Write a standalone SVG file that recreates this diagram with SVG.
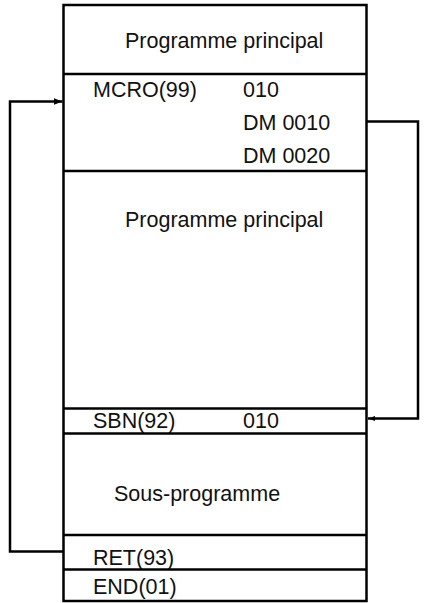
<svg xmlns="http://www.w3.org/2000/svg" width="426" height="603" viewBox="0 0 426 603">
<style>
.box{fill:none;stroke:#000;stroke-width:2.5}
.sep{stroke:#000;stroke-width:2.5}
.t{font-family:"Liberation Sans",Arial,sans-serif;font-size:21.5px;fill:#111}
.c{fill:none;stroke:#000;stroke-width:2.5}
</style>
<defs>
<marker id="ah" markerWidth="10" markerHeight="8" refX="9" refY="4" orient="auto" markerUnits="userSpaceOnUse">
<path d="M0,0.5 L9,4 L0,7.5 Z" fill="#000"/>
</marker>
<marker id="ah2" markerWidth="8" markerHeight="6" refX="7" refY="3" orient="auto" markerUnits="userSpaceOnUse">
<path d="M0,0.5 L7,3 L0,5.5 Z" fill="#000"/>
</marker>
</defs>
<g id="program">
<rect class="box" x="63.5" y="5" width="303" height="596"/>
</g>
<g id="main1">
<text class="t" x="125" y="48">Programme principal</text>
</g>
<g id="mcro">
<line class="sep" x1="63.5" y1="74" x2="366.5" y2="74"/>
<text class="t" x="93" y="97">MCRO(99)</text>
<text class="t" x="243" y="97">010</text>
<text class="t" x="243" y="130">DM 0010</text>
<text class="t" x="243" y="163">DM 0020</text>
</g>
<g id="main2">
<line class="sep" x1="63.5" y1="171" x2="366.5" y2="171"/>
<text class="t" x="125" y="227">Programme principal</text>
</g>
<g id="sbn">
<line class="sep" x1="63.5" y1="408.5" x2="366.5" y2="408.5"/>
<text class="t" x="93" y="428">SBN(92)</text>
<text class="t" x="243" y="428">010</text>
<line class="sep" x1="63.5" y1="433.5" x2="366.5" y2="433.5"/>
</g>
<g id="sub">
<text class="t" x="114" y="501">Sous-programme</text>
</g>
<g id="ret">
<line class="sep" x1="63.5" y1="535" x2="366.5" y2="535"/>
<text class="t" x="93" y="565">RET(93)</text>
</g>
<g id="end">
<line class="sep" x1="63.5" y1="569.5" x2="366.5" y2="569.5"/>
<text class="t" x="93" y="594">END(01)</text>
</g>
<g id="connectors">
<polyline class="c" points="63,551.5 10,551.5 10,101.5 62.5,101.5" marker-end="url(#ah)"/>
<polyline class="c" points="367,121.5 418,121.5 418,418.5 368,418.5" marker-end="url(#ah2)"/>
</g>
</svg>
